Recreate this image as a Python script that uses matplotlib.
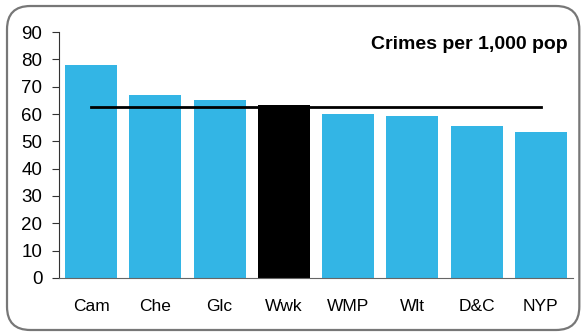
import matplotlib
matplotlib.use('Agg')
import matplotlib.pyplot as plt
from matplotlib.patches import FancyBboxPatch

forces = ['Cam', 'Che', 'Glc', 'Wwk', 'WMP', 'Wlt', 'D&C', 'NYP']
rates = [78.0, 67.0, 65.1, 63.3, 60.0, 59.3, 55.6, 53.4]
average = 62.7
highlight = 'Wwk'

plt.rcParams['font.family'] = ['Liberation Sans', 'DejaVu Sans']

fig = plt.figure(figsize=(5.84, 3.34), dpi=100)

# rounded frame round the whole chart, kept behind the axes
frame = FancyBboxPatch((0.012, 0.012), 0.98, 0.97, boxstyle='round,pad=0,rounding_size=0.04',
                       transform=fig.transFigure, facecolor='white', edgecolor='#777777',
                       linewidth=1.6, mutation_aspect=584 / 334, zorder=-5)
fig.patches.append(frame)

ax = fig.add_axes([0.101, 0.168, 0.880, 0.736])
ax.set_zorder(2)
ax.set_facecolor('none')
colors = ['black' if f == highlight else '#33b5e5' for f in forces]
x = range(len(forces))
ax.bar(x, rates, width=0.81, color=colors, zorder=2)
ax.plot([0, len(forces) - 1], [average, average], color='black', linewidth=2, zorder=3)

ax.set_xlim(-0.5, len(forces) - 0.5)
ax.set_ylim(0, 90)
ax.set_yticks(range(0, 91, 10))
ax.set_xticks(list(x))
ax.set_xticklabels(forces, fontsize=12.5)
ax.tick_params(axis='x', length=0, pad=15)
ax.tick_params(axis='y', labelsize=13.5, direction='out', length=5, pad=7, color='#333333')
for side in ('top', 'right'):
    ax.spines[side].set_visible(False)
ax.spines['left'].set_color('#333333')
ax.spines['bottom'].set_color('#666666')

ax.text(0.99, 0.95, 'Crimes per 1,000 pop', transform=ax.transAxes, ha='right', va='center',
        fontsize=14, fontweight='bold')

fig.savefig('out.png', dpi=100)
